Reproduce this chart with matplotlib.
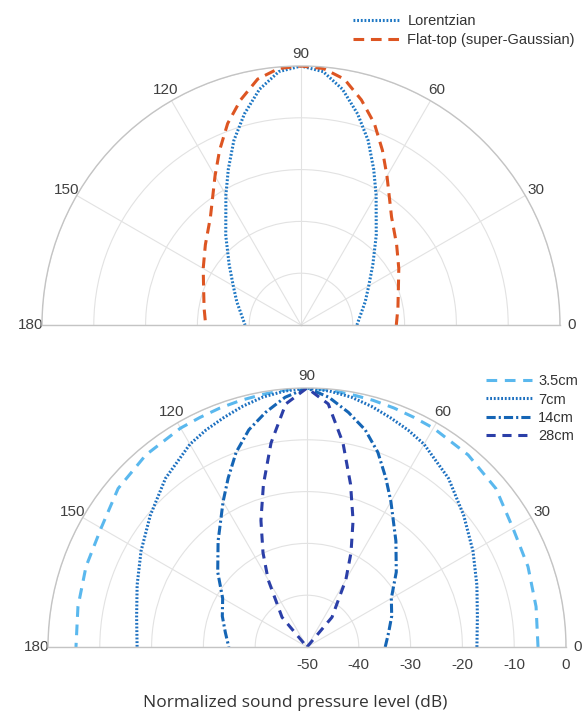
import numpy as np
import matplotlib
matplotlib.use('Agg')
import matplotlib.pyplot as plt
import matplotlib.transforms as mtrans
from matplotlib.lines import Line2D

plt.rcParams['font.family'] = ['Liberation Sans', 'DejaVu Sans']

# angles in degrees, 0 = right, 180 = left
angles = [0, 10, 20, 30, 40, 50, 60, 65, 70, 75, 80, 85, 90,
          95, 100, 105, 110, 115, 120, 130, 140, 150, 160, 170, 180]

# top panel, normalized level in dB
lorentzian = [-39.2, -38.3, -36.8, -34.9, -31.9, -27.4, -21.0, -16.8, -12.1, -7.8, -3.8, -0.9, 0.0,
              -0.9, -3.8, -7.8, -12.1, -16.8, -21.0, -27.4, -31.9, -34.9, -36.8, -38.3, -39.2]
flat_top = [-31.6, -31.0, -30.0, -28.2, -25.9, -22.8, -16.8, -12.8, -8.6, -5.0, -1.8, -0.3, 0.0,
            -0.3, -1.8, -5.0, -8.6, -12.8, -16.8, -22.8, -25.9, -28.2, -30.0, -31.0, -31.6]

# bottom panel, normalized level in dB for each distance
d_3p5cm = [-5.4, -5.1, -4.6, -4.1, -2.4, -1.6, -1.2, -1.1, -0.9, -0.7, -0.5, -0.2, 0.0,
           -0.2, -0.5, -0.7, -0.9, -1.1, -1.2, -1.6, -2.4, -4.1, -4.6, -5.1, -5.4]
d_7cm = [-17.2, -16.6, -15.1, -13.0, -10.5, -7.5, -4.8, -3.8, -2.9, -1.9, -1.0, -0.4, 0.0,
         -0.4, -1.0, -1.9, -2.9, -3.8, -4.8, -7.5, -10.5, -13.0, -15.1, -16.6, -17.2]
d_14cm = [-34.9, -34.0, -32.6, -31.2, -27.5, -23.3, -17.6, -14.0, -10.0, -6.6, -4.0, -1.6, 0.0,
          -1.6, -4.0, -6.6, -10.0, -14.0, -17.6, -23.3, -27.5, -31.2, -32.6, -34.0, -34.9]
d_28cm = [-50.0, -50.0, -50.0, -50.0, -50.0, -42.5, -35.0, -29.9, -24.0, -17.5, -10.0, -2.9, 0.0,
          -2.9, -10.0, -17.5, -24.0, -29.9, -35.0, -42.5, -50.0, -50.0, -50.0, -50.0, -50.0]

r_ticks = [-50, -40, -30, -20, -10, 0]
theta_ticks = [0, 30, 60, 90, 120, 150, 180]

th = np.deg2rad(angles)
W, H = 582, 713
fig = plt.figure(figsize=(W / 100, H / 100), dpi=100)


def half_polar(x0, y_base, radius):
    # polar axes keep a square box, the half disc sits in its middle
    size = 2 * radius
    y_mid = y_base - radius / 2
    rect = [x0 / W, 1 - (y_mid + radius) / H, size / W, size / H]
    ax = fig.add_axes(rect, projection='polar')
    ax.set_thetamin(0)
    ax.set_thetamax(180)
    ax.set_rlim(-50, 0)
    ax.set_rticks(r_ticks)
    ax.set_yticklabels([])
    ax.set_thetagrids(theta_ticks, [str(t) for t in theta_ticks])
    ax.tick_params(axis='x', pad=-2, labelsize=11, colors='#404040')
    ax.grid(True, color='#e2e2e2', lw=0.8)
    ax.spines['polar'].set_color('#c4c4c4')
    ax.spines['polar'].set_linewidth(1.0)
    for s in ('start', 'end'):
        ax.spines[s].set_color('#c4c4c4')
        ax.spines[s].set_linewidth(1.0)
    ax.patch.set_alpha(0)
    return ax


ax1 = half_polar(42, 325, 259)
ax1.plot(th, lorentzian, color='#1f78c4', lw=2.2, ls=(0, (0.6, 0.6)))
ax1.plot(th, flat_top, color='#dd5522', lw=2.2, ls=(0, (3.5, 2.2)))

ax2 = half_polar(48, 647, 259)
ax2.plot(th, d_3p5cm, color='#5ab8ee', lw=2.2, ls=(0, (3.5, 2.5)))
ax2.plot(th, d_7cm, color='#1d70c0', lw=2.2, ls=(0, (0.6, 0.6)))
ax2.plot(th, d_14cm, color='#1565b5', lw=2.2, ls=(0, (3.0, 1.0, 0.7, 1.0)))
ax2.plot(th, d_28cm, color='#2b3fa8', lw=2.2, ls=(0, (3.0, 2.2)))

# radial tick labels below the baseline
off = mtrans.offset_copy(ax2.transData, fig=fig, x=0, y=-18, units='dots')
for r in r_ticks:
    ax2.text(0, r, str(r), transform=off, ha='center', va='center',
             fontsize=11, color='#404040')

leg1 = [Line2D([], [], color='#1f78c4', lw=2.2, ls=(0, (0.6, 0.6))),
        Line2D([], [], color='#dd5522', lw=2.2, ls=(0, (3.5, 2.2)))]
fig.legend(leg1, ['Lorentzian', 'Flat-top (super-Gaussian)'],
           loc='upper right', bbox_to_anchor=(588 / W, 1 - 1 / H), frameon=False,
           fontsize=10.5, handlelength=3.2, handletextpad=0.5, labelspacing=0.35,
           labelcolor='#333333')

leg2 = [Line2D([], [], color='#5ab8ee', lw=2.2, ls=(0, (3.5, 2.5))),
        Line2D([], [], color='#1d70c0', lw=2.2, ls=(0, (0.6, 0.6))),
        Line2D([], [], color='#1565b5', lw=2.2, ls=(0, (3.0, 1.0, 0.7, 1.0))),
        Line2D([], [], color='#2b3fa8', lw=2.2, ls=(0, (3.0, 2.2)))]
fig.legend(leg2, ['3.5cm', '7cm', '14cm', '28cm'],
           loc='upper right', bbox_to_anchor=(591 / W, 1 - 361 / H), frameon=False,
           fontsize=10.5, handlelength=3.2, handletextpad=0.4, labelspacing=0.3,
           labelcolor='#333333')

fig.text(295 / W, 1 - 707 / H, 'Normalized sound pressure level (dB)',
         ha='center', va='baseline', fontsize=12.5, color='#333333',
         family=['Open Sans', 'DejaVu Sans'])

fig.savefig('out.png', dpi=100)
